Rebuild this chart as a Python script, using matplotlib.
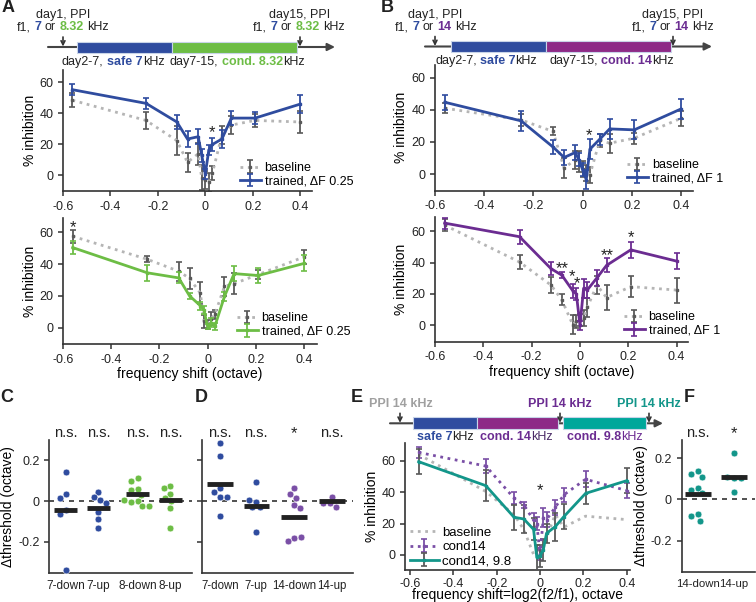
import matplotlib
matplotlib.use('Agg')
import matplotlib.pyplot as plt
from matplotlib.patches import Rectangle
import numpy as np

plt.rcParams['font.family'] = ['Liberation Sans', 'DejaVu Sans']
plt.rcParams['axes.unicode_minus'] = False

# ---------------- data ----------------
shift = [-0.56, -0.25, -0.12, -0.075, -0.03, -0.015, 0.0, 0.015, 0.03, 0.07, 0.11, 0.21, 0.4]
xticks_oct = [-0.6, -0.4, -0.2, 0, 0.2, 0.4]
xtick_labels_oct = ['-0.6', '-0.4', '-0.2', '0', '0.2', '0.4']

# panel A top (safe 7 kHz, dF 0.25)
a1_base = [48.5, 35.5, 22.5, 8.5, 14.0, -1.5, -3.0, -4.5, 1.5, 26.0, 32.5, 35.5, 34.5]
a1_base_err = [4.5, 5.5, 9.5, 6.0, 7.0, 8.0, 6.0, 6.0, 4.5, 6.0, 6.0, 4.0, 7.0]
a1_tr = [55.3, 46.5, 34.5, 23.5, 25.0, 13.0, 1.0, 16.5, 20.0, 23.5, 37.0, 37.0, 46.0]
a1_tr_err = [3.5, 3.7, 4.5, 5.0, 5.0, 4.0, 3.5, 3.0, 4.0, 6.0, 4.5, 4.0, 6.0]
# panel A bottom (cond 8.32 kHz)
a2_base = [57.5, 43.0, 35.5, 31.0, 21.7, 4.0, 2.0, 5.7, 8.3, 26.0, 27.7, 33.4, 44.5]
a2_base_err = [4.0, 2.0, 6.0, 6.5, 7.0, 4.0, 3.0, 4.0, 3.0, 6.0, 6.5, 3.0, 4.5]
a2_tr = [50.4, 34.5, 31.3, 20.0, 13.8, 11.0, 0.5, 3.2, 0.8, 19.6, 34.0, 32.8, 40.4]
a2_tr_err = [4.3, 5.0, 3.5, 2.0, 2.5, 2.5, 1.5, 3.0, 2.0, 3.0, 4.5, 5.0, 5.0]
# panel B top (safe 7 kHz, dF 1)
b1_base = [41.0, 33.7, 26.5, 3.7, 8.9, 7.9, 3.0, 0.6, -0.4, 21.0, 19.2, 22.3, 34.7]
b1_base_err = [3.0, 3.5, 2.5, 6.0, 5.5, 6.5, 5.0, 5.0, 5.0, 4.0, 6.0, 3.5, 4.5]
b1_tr = [44.7, 33.1, 16.8, 10.3, 13.4, 9.0, 2.7, -3.5, 15.5, 21.7, 28.1, 27.5, 40.5]
b1_tr_err = [4.8, 6.4, 4.5, 4.5, 4.5, 4.0, 4.0, 6.0, 6.0, 3.5, 6.0, 6.0, 6.0]
# panel B bottom (cond 14 kHz) -- also used in E
b2_base = [64.0, 40.4, 25.7, 16.2, 0.4, 2.5, 3.5, 4.6, 11.4, 25.7, 17.7, 24.7, 22.5]
b2_base_err = [4.0, 4.5, 5.0, 3.5, 6.0, 4.0, 4.0, 5.0, 6.0, 5.5, 8.0, 6.5, 8.0]
b2_tr = [65.3, 56.6, 36.2, 32.0, 22.1, 20.0, 0.0, 23.6, 22.5, 30.3, 38.3, 48.2, 41.0]
b2_tr_err = [3.5, 4.5, 4.0, 2.0, 4.5, 4.0, 3.0, 6.0, 5.0, 5.0, 4.5, 5.0, 5.0]
# panel E (cond14 then 9.8)
e_cond98 = [59.4, 44.1, 24.0, 22.9, 16.3, -1.5, -0.5, 3.2, 13.8, 18.0, 24.4, 39.2, 47.3]
e_cond98_err = [8.0, 10.0, 8.0, 9.0, 7.0, 8.0, 7.0, 7.0, 6.0, 9.0, 8.0, 6.5, 8.0]

# panel C
c_groups = ['7-down', '7-up', '8-down', '8-up']
c_7down = [0.14, 0.035, 0.013, -0.045, -0.065, -0.338]
c_7up = [0.046, 0.021, 0.005, -0.008, -0.055, -0.09, -0.133]
c_8down = [0.113, 0.098, 0.06, 0.055, 0.03, 0.0, -0.003, -0.025, -0.023, 0.005]
c_8up = [0.075, 0.065, 0.034, 0.013, 0.0, -0.036, -0.134]
c_means = [-0.045, -0.033, 0.033, 0.005]
c_sig = ['n.s.', 'n.s.', 'n.s.', 'n.s.']
# panel D
d_groups = ['7-down', '7-up', '14-down', '14-up']
d_7down = [0.286, 0.22, 0.065, 0.046, 0.018, 0.018, -0.073]
d_7up = [0.091, -0.003, 0.005, -0.031, -0.031, -0.15]
d_14down = [0.062, 0.034, 0.013, -0.02, -0.036, -0.18, -0.194, -0.175]
d_14up = [0.021, -0.011, -0.028, -0.011]
d_means = [0.083, -0.022, -0.08, 0.0]
d_sig = ['n.s.', 'n.s.', '*', 'n.s.']
# panel F
f_groups = ['14-down', '14-up']
f_14down = [0.139, 0.126, 0.11, 0.057, 0.046, 0.03, -0.07, -0.082, -0.103]
f_14up = [0.225, 0.107, 0.111, 0.107, 0.036]
f_means = [0.025, 0.11]
f_sig = ['n.s.', '*']

# ---------------- style ----------------
BLUE = '#2f4c9f'
GREEN = '#6dbd45'
PURPLE = '#6b2c91'
PURPLE_BAR = '#8d2a87'
PURPLE_DOT = '#7a4fa6'
TEAL = '#13968a'
TEAL_BAR = '#00a79b'
GRAY_LINE = '#b5b5b5'
GRAY_ERR = '#595959'
GRAY_TXT = '#a0a0a0'
DARK = '#222222'
FS_TICK = 9
FS_LAB = 10

W, H = 756, 602
fig = plt.figure(figsize=(W / 100, H / 100), dpi=100)
ov = fig.add_axes([0, 0, 1, 1])
ov.set_xlim(0, W)
ov.set_ylim(H, 0)
ov.axis('off')
renderer = fig.canvas.get_renderer()


def px_axes(l, t, r, b):
    return fig.add_axes([l / W, 1 - b / H, (r - l) / W, (b - t) / H])


def style(ax):
    for s in ['top', 'right']:
        ax.spines[s].set_visible(False)
    for s in ['left', 'bottom']:
        ax.spines[s].set_linewidth(1.2)
        ax.spines[s].set_color('#333333')
    ax.tick_params(direction='out', length=3.5, width=1.1, colors='#333333',
                   labelsize=FS_TICK, labelcolor=DARK)
    ax.patch.set_alpha(0)


def text_w(s, size, weight):
    t = ov.text(0, 0, s, fontsize=size, fontweight=weight)
    w = t.get_window_extent(renderer=renderer).width
    t.remove()
    return w


def rich(x, y, parts, ha='left', size=9):
    texts = []
    cur = x
    for s, c, w in parts:
        sp = text_w('a a', size, w) - text_w('aa', size, w)
        lead = len(s) - len(s.lstrip(' '))
        trail = len(s) - len(s.rstrip(' '))
        core = s.strip(' ')
        cur += lead * sp
        t = ov.text(cur, y, core, color=c, fontweight=w, fontsize=size,
                    ha='left', va='center')
        cur += t.get_window_extent(renderer=renderer).width + trail * sp
        texts.append(t)
    total = cur - x
    if ha == 'center':
        for t in texts:
            px, py = t.get_position()
            t.set_x(px - total / 2)


def curve_axes(ax, xlim, ylim):
    style(ax)
    ax.set_xlim(*xlim)
    ax.set_ylim(*ylim)
    ax.set_xticks(xticks_oct)
    ax.set_xticklabels(xtick_labels_oct)
    ax.set_yticks([0, 20, 40, 60])
    ax.set_ylabel('% inhibition', fontsize=FS_LAB, labelpad=2)


def plot_base(ax, y, err, label='baseline'):
    ax.errorbar(shift, y, yerr=err, color=GRAY_LINE, ls=':', lw=2,
                ecolor=GRAY_ERR, elinewidth=1.3, capsize=2.5, capthick=1.2,
                marker='s', ms=2, mfc=GRAY_ERR, mec=GRAY_ERR, label=label, zorder=2)


def plot_tr(ax, y, err, color, label, ecolor=None, ls='-'):
    ax.errorbar(shift, y, yerr=err, color=color, ls=ls, lw=2,
                ecolor=ecolor or color, elinewidth=1.3, capsize=2.5, capthick=1.2,
                marker='s', ms=2, mfc=color, mec=color, label=label, zorder=3)


def legend(ax, anchor, loc='lower right'):
    ax.legend(loc=loc, bbox_to_anchor=anchor, frameon=False, fontsize=9,
              handlelength=1.7, handletextpad=0.3, borderaxespad=0.0,
              labelspacing=0.1, borderpad=0.0)


def star(ax, x, y, s):
    ax.text(x, y, s, ha='center', va='center', fontsize=12, color=DARK)


# ---------------- panel A ----------------
axA1 = px_axes(63, 70, 312, 191)
curve_axes(axA1, (-0.6, 0.45), (-10, 68))
plot_base(axA1, a1_base, a1_base_err)
plot_tr(axA1, a1_tr, a1_tr_err, BLUE, 'trained, \u0394F 0.25')
legend(axA1, (1.165, 0.03))
star(axA1, 0.028, 27.5, '*')

axA2 = px_axes(63, 218, 317, 344)
curve_axes(axA2, (-0.6, 0.454), (-10.3, 69))
plot_base(axA2, a2_base, a2_base_err)
plot_tr(axA2, a2_tr, a2_tr_err, GREEN, 'trained, \u0394F 0.25')
legend(axA2, (1.13, 0.05))
star(axA2, -0.56, 63, '*')
axA2.set_xlabel('frequency shift (octave)', fontsize=FS_LAB, labelpad=1)

# ---------------- panel B ----------------
axB1 = px_axes(435, 65, 693, 190.7)
curve_axes(axB1, (-0.6, 0.449), (-10.4, 67.9))
plot_base(axB1, b1_base, b1_base_err)
plot_tr(axB1, b1_tr, b1_tr_err, BLUE, 'trained, \u0394F 1')
legend(axB1, (1.116, 0.05))
star(axB1, 0.028, 24, '*')

axB2 = px_axes(435, 216.7, 688, 341.7)
curve_axes(axB2, (-0.6, 0.447), (-10.5, 69.4))
plot_base(axB2, b2_base, b2_base_err)
plot_tr(axB2, b2_tr, b2_tr_err, PURPLE, 'trained, \u0394F 1')
legend(axB2, (1.126, 0.04))
for (sx, sy, s) in [(-0.073, 36, '**'), (-0.032, 31, '*'), (-0.011, 26.5, '*'),
                    (0.113, 44.5, '**'), (0.21, 56, '*')]:
    star(axB2, sx, sy, s)
axB2.set_xlabel('frequency shift (octave)', fontsize=FS_LAB, labelpad=1)

# ---------------- panel E ----------------
axE = px_axes(405, 443, 630, 570)
curve_axes(axE, (-0.623, 0.415), (-9.6, 71.3))
axE.tick_params(axis='x', pad=2)
axE.plot(shift, b2_base, color=GRAY_LINE, ls=':', lw=2, label='baseline', zorder=1)
plot_tr(axE, b2_tr, b2_tr_err, PURPLE_DOT, 'cond14', ls=':')
plot_tr(axE, e_cond98, e_cond98_err, TEAL, 'cond14, 9.8', ecolor=GRAY_ERR)
axE.legend(loc='lower left', bbox_to_anchor=(0.02, 0.02), frameon=False, fontsize=9.5,
           handlelength=2.2, handletextpad=0.3, borderaxespad=0.0,
           labelspacing=0.15, borderpad=0.0)
star(axE, 0.0, 41, '*')
axE.set_xlabel('frequency shift=log2(f2/f1), octave', fontsize=FS_LAB, labelpad=-1)


# ---------------- scatter panels ----------------
def swarm_offsets(vals, ys_px, d):
    placed = []
    out = np.zeros(len(vals))
    for i in range(len(vals)):
        y = vals[i] * ys_px
        cands = [0.0]
        for (px, py) in placed:
            dy = abs(py - y)
            if dy < d:
                w = np.sqrt(d * d - dy * dy)
                cands += [px - w, px + w]
        cands = sorted(cands, key=abs)
        for c in cands:
            if all((c - px) ** 2 + (y - py) ** 2 >= d * d - 1e-6 for px, py in placed):
                out[i] = c
                break
        placed.append((out[i], y))
    return out


def scatter_panel(ax, positions, groups, series, colors, means, sig, xlim, ylim,
                  labels=True, xfs=8.5):
    style(ax)
    ax.set_xlim(*xlim)
    ax.set_ylim(*ylim)
    bb = ax.get_window_extent(renderer=renderer)
    xs_px = bb.width / (xlim[1] - xlim[0])
    ys_px = bb.height / (ylim[1] - ylim[0])
    ax.axhline(0, color='#333333', ls=(0, (3, 3)), lw=1.2, zorder=1)
    for p, vals, c, m, s in zip(positions, series, colors, means, sig):
        offs = swarm_offsets(vals, ys_px, 7.0) / xs_px
        ax.scatter(np.array([p] * len(vals)) + offs, vals, s=24, color=c,
                   edgecolors='white', linewidths=0.4, zorder=3)
        ax.hlines(m, p - 0.35, p + 0.35, color='#222222', lw=3.5, zorder=4)
        ax.text(p, 1.05, s, transform=ax.get_xaxis_transform(), ha='center',
                va='center', fontsize=10.5 if s != '*' else 12, color=DARK)
    ax.set_xticks(positions)
    ax.set_xticklabels(groups)
    ax.tick_params(axis='x', length=0, pad=5, labelsize=xfs)
    ax.set_yticks([-0.2, 0, 0.2])
    if labels:
        ax.set_yticklabels(['-0.2', '0', '0.2'])
        ax.set_ylabel('\u0394threshold (octave)', fontsize=FS_LAB, labelpad=2)
    else:
        ax.set_yticklabels([])


axC = px_axes(49.3, 440, 191.7, 573.3)
scatter_panel(axC, [0, 1, 2.2, 3.2], c_groups, [c_7down, c_7up, c_8down, c_8up],
              [BLUE, BLUE, GREEN, GREEN], c_means, c_sig, (-0.5, 3.85), (-0.354, 0.299))

axD = px_axes(202, 440, 353, 573.3)
scatter_panel(axD, [0, 1, 2.05, 3.1], d_groups, [d_7down, d_7up, d_14down, d_14up],
              [BLUE, BLUE, PURPLE_DOT, PURPLE_DOT], d_means, d_sig, (-0.5, 3.68),
              (-0.354, 0.299), labels=False, xfs=8.3)

axF = px_axes(681.7, 440, 755, 571.7)
scatter_panel(axF, [0, 1], f_groups, [f_14down, f_14up], [TEAL, TEAL], f_means, f_sig,
              (-0.45, 1.58), (-0.352, 0.29), xfs=8.2)

# ---------------- timelines ----------------
def timeline(x0, x1, y, bars, arrows, bar_h=11):
    ov.annotate('', xy=(x1, y), xytext=(x0, y),
                arrowprops=dict(arrowstyle='-|>', color='#444444', lw=1.5,
                                mutation_scale=11, shrinkA=0, shrinkB=0))
    for (bx0, bx1, c) in bars:
        ov.add_patch(Rectangle((bx0, y - bar_h / 2), bx1 - bx0, bar_h, fc=c,
                               ec='#c8d4e8', lw=0.8, zorder=3))
    for ax_ in arrows:
        ov.annotate('', xy=(ax_, y - 0.5), xytext=(ax_, y - 10),
                    arrowprops=dict(arrowstyle='->', color='#333333', lw=1.2,
                                    mutation_scale=7, shrinkA=0, shrinkB=0),
                    zorder=4)


# A timeline
timeline(48, 335, 47, [(76.7, 171.7, BLUE), (171.7, 296.7, GREEN)], [63, 300])
ov.text(63, 15, 'day1, PPI', ha='center', va='center', fontsize=9, color=DARK)
rich(63, 27, [('f1, ', DARK, 'normal'), ('7', BLUE, 'bold'), (' or ', DARK, 'normal'),
              ('8.32', GREEN, 'bold'), (' kHz', DARK, 'normal')], ha='center')
ov.text(300, 15, 'day15, PPI', ha='center', va='center', fontsize=9, color=DARK)
rich(299, 27, [('f1, ', DARK, 'normal'), ('7', BLUE, 'bold'), (' or ', DARK, 'normal'),
               ('8.32', GREEN, 'bold'), (' kHz', DARK, 'normal')], ha='center')
rich(62, 62, [('day2-7, ', DARK, 'normal'), ('safe 7', BLUE, 'bold'), ('kHz', DARK, 'normal')])
rich(170, 62, [('day7-15, ', DARK, 'normal'), ('cond. 8.32', GREEN, 'bold'),
               ('kHz', DARK, 'normal')])

# B timeline
timeline(425, 712, 46.5, [(450.7, 546, BLUE), (546, 671, PURPLE_BAR)], [435, 673])
ov.text(435, 15, 'day1, PPI', ha='center', va='center', fontsize=9, color=DARK)
rich(436, 27, [('f1, ', DARK, 'normal'), ('7', BLUE, 'bold'), (' or ', DARK, 'normal'),
               ('14', PURPLE, 'bold'), (' kHz', DARK, 'normal')], ha='center')
ov.text(673, 15, 'day15, PPI', ha='center', va='center', fontsize=9, color=DARK)
rich(673, 27, [('f1, ', DARK, 'normal'), ('7', BLUE, 'bold'), (' or ', DARK, 'normal'),
               ('14', PURPLE, 'bold'), (' kHz', DARK, 'normal')], ha='center')
rich(435, 61, [('day2-7, ', DARK, 'normal'), ('safe 7', BLUE, 'bold'), ('kHz', DARK, 'normal')])
rich(549, 61, [('day7-15, ', DARK, 'normal'), ('cond. 14', PURPLE, 'bold'),
               ('kHz', DARK, 'normal')])

# E timeline
timeline(390, 663, 423.3, [(412.7, 476.7, BLUE), (476.7, 558.3, PURPLE_BAR),
                           (563.3, 645.7, TEAL_BAR)], [400, 560, 649], bar_h=12)
ov.text(401, 404, 'PPI 14 kHz', ha='center', va='center', fontsize=9,
        fontweight='bold', color=GRAY_TXT)
ov.text(560, 404, 'PPI 14 kHz', ha='center', va='center', fontsize=9,
        fontweight='bold', color=PURPLE)
ov.text(649, 404, 'PPI 14 kHz', ha='center', va='center', fontsize=9,
        fontweight='bold', color=TEAL)
rich(416.7, 437, [('safe 7', BLUE, 'bold'), ('kHz', DARK, 'normal')])
rich(480, 437, [('cond. 14', PURPLE, 'bold'), ('kHz', '#4a2a66', 'normal')])
rich(566.7, 437, [('cond. 9.8', PURPLE, 'bold'), ('kHz', PURPLE, 'normal')])

# panel letters
for (lx, ly, L) in [(8, 8, 'A'), (387, 8, 'B'), (7, 398, 'C'), (201, 398, 'D'),
                    (357, 398, 'E'), (689, 398, 'F')]:
    ov.text(lx, ly, L, ha='center', va='center', fontsize=13, fontweight='bold',
            color=DARK)

fig.savefig('out.png', dpi=100)
